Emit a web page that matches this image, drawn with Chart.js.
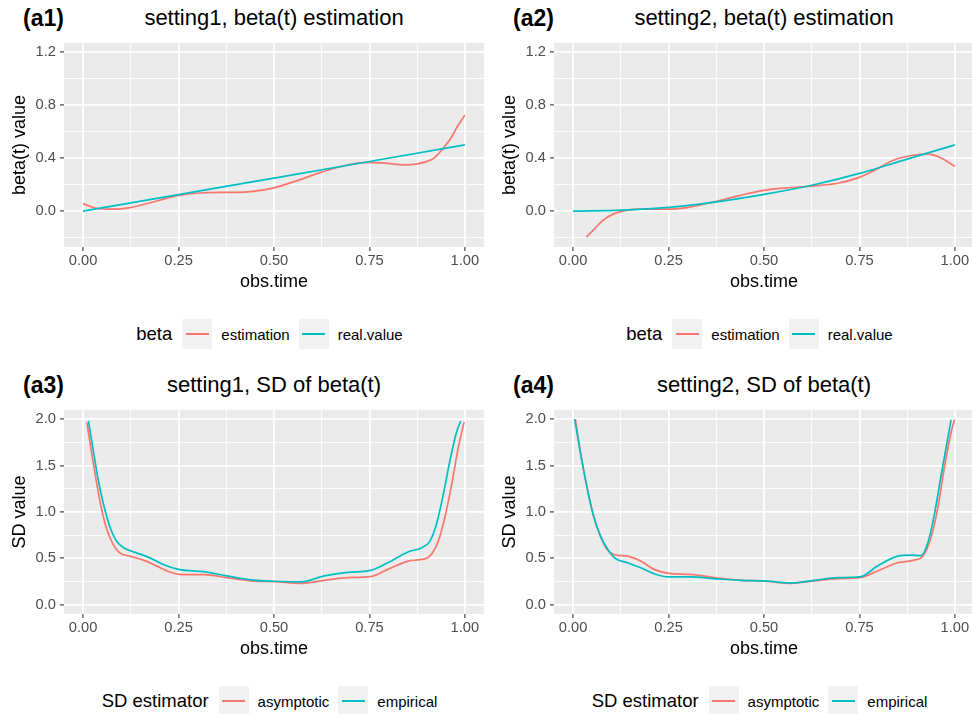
<!DOCTYPE html>
<html>
<head>
<meta charset="utf-8">
<script src="https://cdn.jsdelivr.net/npm/chart.js@4.4.0/dist/chart.umd.min.js"></script>
<style>
  html, body { margin: 0; padding: 0; width: 972px; height: 714px; overflow: hidden; background: #fff; }
  body { position: relative; font-family: "Liberation Sans", Arial, sans-serif; color: #000; }
  .panel { position: absolute; width: 486px; height: 367px; }
  .tag { position: absolute; left: 23px; top: 7px; font-weight: bold; font-size: 23px; line-height: 1; }
  .title { position: absolute; left: 64px; width: 420px; top: 7px; text-align: center; font-size: 22px; line-height: 1; white-space: nowrap; }
  .plot { position: absolute; left: 0; top: 30px; width: 486px; height: 270px; }
  .legend { position: absolute; left: 64px; width: 420px; top: 319px; height: 30px; display: flex; justify-content: center; align-items: center; }
  .ltitle { font-size: 18.5px; margin-right: 10px; }
  .key { width: 30px; height: 30px; background: #f2f2f2; display: flex; align-items: center; justify-content: center; margin-right: 9px; }
  .key span { display: block; width: 23px; height: 1.8px; }
  .lab { font-size: 15px; margin-right: 9px; }
</style>
</head>
<body>

<div class="panel" style="left:0;top:0">
  <div class="tag">(a1)</div>
  <div class="title">setting1, beta(t) estimation</div>
  <div class="plot"><canvas id="a1" width="486" height="270"></canvas></div>
  <div class="legend"><span class="ltitle">beta</span><span class="key"><span style="background:#F8766D"></span></span><span class="lab">estimation</span><span class="key"><span style="background:#00BFC4"></span></span><span class="lab">real.value</span></div>
</div>

<div class="panel" style="left:490px;top:0">
  <div class="tag">(a2)</div>
  <div class="title">setting2, beta(t) estimation</div>
  <div class="plot"><canvas id="a2" width="486" height="270"></canvas></div>
  <div class="legend"><span class="ltitle">beta</span><span class="key"><span style="background:#F8766D"></span></span><span class="lab">estimation</span><span class="key"><span style="background:#00BFC4"></span></span><span class="lab">real.value</span></div>
</div>

<div class="panel" style="left:0;top:367px">
  <div class="tag">(a3)</div>
  <div class="title">setting1, SD of beta(t)</div>
  <div class="plot"><canvas id="a3" width="486" height="270"></canvas></div>
  <div class="legend"><span class="ltitle">SD estimator</span><span class="key"><span style="background:#F8766D"></span></span><span class="lab">asymptotic</span><span class="key"><span style="background:#00BFC4"></span></span><span class="lab">empirical</span></div>
</div>

<div class="panel" style="left:490px;top:367px">
  <div class="tag">(a4)</div>
  <div class="title">setting2, SD of beta(t)</div>
  <div class="plot"><canvas id="a4" width="486" height="270"></canvas></div>
  <div class="legend"><span class="ltitle">SD estimator</span><span class="key"><span style="background:#F8766D"></span></span><span class="lab">asymptotic</span><span class="key"><span style="background:#00BFC4"></span></span><span class="lab">empirical</span></div>
</div>

<script>
// ticks
const xTicks = [0, 0.125, 0.25, 0.375, 0.5, 0.625, 0.75, 0.875, 1];
const xMajor = [0, 0.25, 0.5, 0.75, 1];
const betaTicks = [-0.2, 0, 0.2, 0.4, 0.6, 0.8, 1.0, 1.2];
const betaMajor = [0, 0.4, 0.8, 1.2];
const sdTicks = [0, 0.25, 0.5, 0.75, 1, 1.25, 1.5, 1.75, 2];
const sdMajor = [0, 0.5, 1, 1.5, 2];

// (a1) setting1, beta(t)
const a1EstTime = [0, 0.035, 0.079, 0.123, 0.193, 0.25, 0.316, 0.386, 0.439, 0.5, 0.561, 0.623, 0.684, 0.746, 0.789, 0.842, 0.875, 0.897, 0.919, 0.941, 0.963, 0.98, 1];
const a1Est = [0.057, 0.022, 0.015, 0.027, 0.077, 0.119, 0.139, 0.142, 0.147, 0.176, 0.231, 0.293, 0.343, 0.368, 0.363, 0.35, 0.357, 0.372, 0.4, 0.468, 0.55, 0.637, 0.724];
const a1RealTime = [0, 0.25, 0.5, 0.75, 1];
const a1Real = [0, 0.125, 0.25, 0.375, 0.5];

// (a2) setting2, beta(t)
const a2EstTime = [0.035, 0.053, 0.079, 0.105, 0.132, 0.167, 0.25, 0.298, 0.368, 0.43, 0.5, 0.561, 0.623, 0.693, 0.746, 0.789, 0.842, 0.886, 0.93, 0.965, 1];
const a2Est = [-0.195, -0.142, -0.067, -0.022, 0.002, 0.015, 0.015, 0.027, 0.07, 0.114, 0.157, 0.176, 0.189, 0.211, 0.251, 0.308, 0.388, 0.42, 0.43, 0.4, 0.338];
const a2RealTime = [0, 0.125, 0.25, 0.375, 0.5, 0.625, 0.75, 0.875, 1];
const a2Real = [0, 0.008, 0.029, 0.07, 0.127, 0.196, 0.285, 0.393, 0.5];

// (a3) setting1, SD
const a3AsyTime = [0.01, 0.022, 0.035, 0.048, 0.061, 0.079, 0.096, 0.123, 0.158, 0.193, 0.228, 0.25, 0.316, 0.377, 0.439, 0.5, 0.57, 0.632, 0.693, 0.752, 0.798, 0.851, 0.886, 0.908, 0.93, 0.947, 0.965, 0.982, 0.998];
const a3Asy = [1.965, 1.644, 1.324, 1.039, 0.826, 0.648, 0.559, 0.523, 0.48, 0.416, 0.352, 0.327, 0.324, 0.292, 0.256, 0.249, 0.231, 0.263, 0.292, 0.302, 0.381, 0.47, 0.488, 0.523, 0.683, 0.932, 1.288, 1.68, 1.97];
const a3EmpTime = [0.014, 0.026, 0.039, 0.053, 0.07, 0.088, 0.11, 0.14, 0.175, 0.21, 0.25, 0.316, 0.377, 0.439, 0.5, 0.57, 0.632, 0.693, 0.752, 0.798, 0.851, 0.886, 0.908, 0.925, 0.943, 0.96, 0.978, 0.989];
const a3Emp = [1.98, 1.68, 1.36, 1.09, 0.843, 0.683, 0.605, 0.559, 0.505, 0.434, 0.381, 0.356, 0.31, 0.267, 0.253, 0.246, 0.31, 0.349, 0.37, 0.452, 0.569, 0.612, 0.683, 0.861, 1.18, 1.537, 1.858, 1.98];

// (a4) setting2, SD
const a4AsyTime = [0.006, 0.019, 0.037, 0.054, 0.072, 0.089, 0.107, 0.142, 0.177, 0.212, 0.251, 0.308, 0.369, 0.439, 0.5, 0.57, 0.631, 0.692, 0.751, 0.797, 0.85, 0.894, 0.916, 0.937, 0.955, 0.972, 0.99, 0.999];
const a4Asy = [2.0, 1.644, 1.253, 0.95, 0.737, 0.594, 0.541, 0.523, 0.47, 0.381, 0.338, 0.327, 0.292, 0.263, 0.256, 0.231, 0.256, 0.281, 0.292, 0.363, 0.452, 0.48, 0.523, 0.719, 1.039, 1.466, 1.858, 1.993];
const a4EmpTime = [0.004, 0.019, 0.037, 0.054, 0.072, 0.094, 0.111, 0.142, 0.177, 0.212, 0.251, 0.308, 0.369, 0.439, 0.5, 0.57, 0.631, 0.692, 0.751, 0.797, 0.85, 0.885, 0.911, 0.929, 0.946, 0.964, 0.981, 0.99];
const a4Emp = [2.0, 1.644, 1.253, 0.95, 0.737, 0.577, 0.498, 0.452, 0.399, 0.335, 0.299, 0.299, 0.281, 0.263, 0.256, 0.235, 0.263, 0.292, 0.299, 0.416, 0.523, 0.534, 0.53, 0.665, 0.968, 1.395, 1.786, 1.993];

const RED = '#F8766D';
const CYAN = '#00BFC4';
const FONT = '"Liberation Sans", Arial, sans-serif';

// grey panel behind the grid
const panelBg = {
  id: 'panelBg',
  beforeDraw(chart) {
    const { ctx, chartArea: a } = chart;
    ctx.save();
    ctx.fillStyle = '#EBEBEB';
    ctx.fillRect(a.left, a.top, a.right - a.left, a.bottom - a.top);
    ctx.restore();
  }
};

const isIn = (list, v) => list.some(m => Math.abs(m - v) < 1e-9);
const pts = (t, v) => t.map((x, i) => ({ x: x, y: v[i] }));

function series(label, t, v, color, order) {
  return {
    label: label,
    data: pts(t, v),
    borderColor: color,
    borderWidth: 1.7,
    pointRadius: 0,
    cubicInterpolationMode: 'monotone',
    fill: false,
    order: order
  };
}

function axisGrid(major) {
  return {
    color: '#FFFFFF',
    lineWidth: c => isIn(major, c.tick.value) ? 1.8 : 0.9,
    drawTicks: true,
    tickLength: 4,
    tickColor: c => isIn(major, c.tick.value) ? '#333333' : 'rgba(0,0,0,0)',
    tickWidth: c => isIn(major, c.tick.value) ? 1.1 : 0
  };
}

function makePanel(id, datasets, yTicks, yMajor, yMin, yMax, yDec, yTitle) {
  new Chart(document.getElementById(id), {
    type: 'line',
    data: { datasets: datasets },
    options: {
      responsive: false,
      animation: false,
      layout: { padding: { left: 0, right: 2, top: 9, bottom: 0 } },
      plugins: { legend: { display: false }, tooltip: { enabled: false } },
      scales: {
        x: {
          type: 'linear',
          min: -0.05,
          max: 1.05,
          afterBuildTicks: s => { s.ticks = xTicks.map(v => ({ value: v })); },
          afterFit: s => { s.height = 53; },
          border: { display: false },
          grid: axisGrid(xMajor),
          ticks: {
            autoSkip: false, maxRotation: 0, padding: 1,
            color: '#4D4D4D', font: { family: FONT, size: 14.7 },
            callback: v => isIn(xMajor, v) ? v.toFixed(2) : ''
          },
          title: { display: true, text: 'obs.time', color: '#000', font: { family: FONT, size: 18 }, padding: { top: 0, bottom: 7 } }
        },
        y: {
          type: 'linear',
          min: yMin,
          max: yMax,
          afterBuildTicks: s => { s.ticks = yTicks.map(v => ({ value: v })); },
          afterFit: s => { s.width = 64; },
          border: { display: false },
          grid: axisGrid(yMajor),
          ticks: {
            autoSkip: false, padding: 4,
            color: '#4D4D4D', font: { family: FONT, size: 14.7 },
            callback: v => isIn(yMajor, v) ? v.toFixed(yDec) : ''
          },
          title: { display: true, text: yTitle, color: '#000', font: { family: FONT, size: 18 }, padding: { top: 9, bottom: 0 } }
        }
      }
    },
    plugins: [panelBg]
  });
}

makePanel('a1', [
  series('estimation', a1EstTime, a1Est, RED, 1),
  series('real.value', a1RealTime, a1Real, CYAN, 0)
], betaTicks, betaMajor, -0.27, 1.27, 1, 'beta(t) value');

makePanel('a2', [
  series('estimation', a2EstTime, a2Est, RED, 1),
  series('real.value', a2RealTime, a2Real, CYAN, 0)
], betaTicks, betaMajor, -0.27, 1.27, 1, 'beta(t) value');

makePanel('a3', [
  series('asymptotic', a3AsyTime, a3Asy, RED, 1),
  series('empirical', a3EmpTime, a3Emp, CYAN, 0)
], sdTicks, sdMajor, -0.1, 2.1, 1, 'SD value');

makePanel('a4', [
  series('asymptotic', a4AsyTime, a4Asy, RED, 1),
  series('empirical', a4EmpTime, a4Emp, CYAN, 0)
], sdTicks, sdMajor, -0.1, 2.1, 1, 'SD value');
</script>
</body>
</html>
